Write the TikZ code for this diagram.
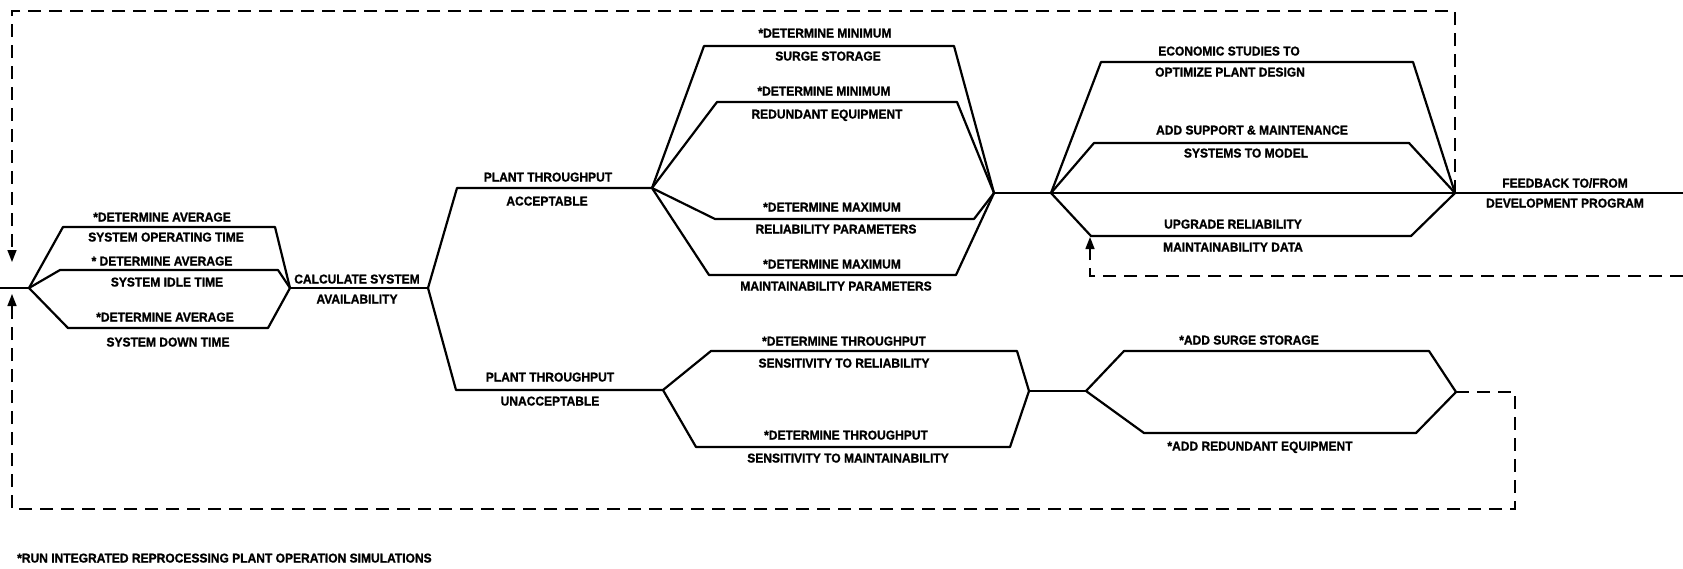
\documentclass[tikz,border=0pt]{standalone}
\usepackage{fontspec}
\setmainfont{Liberation Sans}[FakeStretch=0.94, FakeBold=1.2]
\usetikzlibrary{arrows.meta}
\begin{document}
\begin{tikzpicture}[x=1pt,y=-1pt,
  flow/.style={line width=2.2pt, line join=round, line cap=round},
  loopline/.style={line width=1.5pt, dash pattern=on 13pt off 8pt},
  lbl/.style={inner sep=0pt, text height=9pt, text depth=0pt,
              font=\fontsize{12.8}{15}\selectfont\bfseries},
  tipend/.style={-{Triangle[length=12pt,width=9pt]}}
]
\useasboundingbox (0,0) rectangle (1683,568);

% junction points of the flow network
\coordinate (in0)  at (0,288);
\coordinate (A)    at (29,288);
\coordinate (B)    at (290,288);
\coordinate (C)    at (428,288);
\coordinate (D)    at (652,188);
\coordinate (E)    at (663,390);
\coordinate (F)    at (994,193);
\coordinate (G)    at (1051,193);
\coordinate (J)    at (1455,193);
\coordinate (out0) at (1683,193);
\coordinate (H)    at (1029,391);
\coordinate (I)    at (1086,391);
\coordinate (K)    at (1456,392);

% feedback loop corners and arrow ends
\coordinate (tr)   at (1455,11);
\coordinate (tl)   at (12,11);
\coordinate (downtip) at (12,262);
\coordinate (kr)   at (1515,392);
\coordinate (br)   at (1515,509);
\coordinate (bl)   at (12,509);
\coordinate (uptip) at (12,294);
\coordinate (fbin) at (1683,276);
\coordinate (fbc)  at (1090,276);
\coordinate (fbtip) at (1090,237);

% --- system time branches ---
\draw[flow] (in0) -- (A);
\draw[flow] (A) -- (63,227) -- (275,227) -- (B);
\draw[flow] (A) -- (60,270) -- (278,270) -- (B);
\draw[flow] (A) -- (68,328) -- (268,328) -- (B);
\draw[flow] (B) -- (C);

% --- throughput decision ---
\draw[flow] (C) -- (457,188) -- (D);
\draw[flow] (C) -- (456,390) -- (E);

% --- acceptable throughput studies ---
\draw[flow] (D) -- (704,46)  -- (954,46)  -- (F);
\draw[flow] (D) -- (717,102) -- (957,102) -- (F);
\draw[flow] (D) -- (715,219) -- (974,219) -- (F);
\draw[flow] (D) -- (709,275) -- (956,275) -- (F);
\draw[flow] (F) -- (G);
\draw[flow] (G) -- (1101,62)  -- (1413,62)  -- (J);
\draw[flow] (G) -- (1094,143) -- (1409,143) -- (J);
\draw[flow] (G) -- (J);
\draw[flow] (G) -- (1091,236) -- (1411,236) -- (J);
\draw[flow] (J) -- (out0);

% --- unacceptable throughput studies ---
\draw[flow] (E) -- (711,351) -- (1017,351) -- (H);
\draw[flow] (E) -- (696,447) -- (1010,447) -- (H);
\draw[flow] (H) -- (I);
\draw[flow] (I) -- (1124,351) -- (1429,351) -- (K);
\draw[flow] (I) -- (1144,433) -- (1416,433) -- (K);

% --- dashed feedback loops ---
\draw[loopline, tipend] (J) -- (tr) -- (tl) -- (downtip);
\draw[loopline, tipend] (K) -- (kr) -- (br) -- (bl) -- (uptip);
\draw[loopline, tipend] (fbin) -- (fbc) -- (fbtip);

% --- labels ---
\node[lbl] (l1a) at (162,217) {*DETERMINE AVERAGE};
\node[lbl] (l1b) at (166,237) {SYSTEM OPERATING TIME};
\node[lbl] (l2a) at (162,261) {* DETERMINE AVERAGE};
\node[lbl] (l2b) at (167,282) {SYSTEM IDLE TIME};
\node[lbl] (l3a) at (165,317) {*DETERMINE AVERAGE};
\node[lbl] (l3b) at (168,342) {SYSTEM DOWN TIME};
\node[lbl] (calca) at (357,279) {CALCULATE SYSTEM};
\node[lbl] (calcb) at (357,299) {AVAILABILITY};

\node[lbl] (acca) at (548,177) {PLANT THROUGHPUT};
\node[lbl] (accb) at (547,201) {ACCEPTABLE};
\node[lbl] (unaa) at (550,377) {PLANT THROUGHPUT};
\node[lbl] (unab) at (550,401) {UNACCEPTABLE};

\node[lbl] (s1a) at (825,33)  {*DETERMINE MINIMUM};
\node[lbl] (s1b) at (828,56)  {SURGE STORAGE};
\node[lbl] (s2a) at (824,91)  {*DETERMINE MINIMUM};
\node[lbl] (s2b) at (827,114) {REDUNDANT EQUIPMENT};
\node[lbl] (s3a) at (832,207) {*DETERMINE MAXIMUM};
\node[lbl] (s3b) at (836,229) {RELIABILITY PARAMETERS};
\node[lbl] (s4a) at (832,264) {*DETERMINE MAXIMUM};
\node[lbl] (s4b) at (836,286) {MAINTAINABILITY PARAMETERS};

\node[lbl] (t1a) at (844,341) {*DETERMINE THROUGHPUT};
\node[lbl] (t1b) at (844,363) {SENSITIVITY TO RELIABILITY};
\node[lbl] (t2a) at (846,435) {*DETERMINE THROUGHPUT};
\node[lbl] (t2b) at (848,458) {SENSITIVITY TO MAINTAINABILITY};

\node[lbl] (e1a) at (1229,51)  {ECONOMIC STUDIES TO};
\node[lbl] (e1b) at (1230,72)  {OPTIMIZE PLANT DESIGN};
\node[lbl] (e2a) at (1252,130) {ADD SUPPORT \& MAINTENANCE};
\node[lbl] (e2b) at (1246,153) {SYSTEMS TO MODEL};
\node[lbl] (e3a) at (1233,224) {UPGRADE RELIABILITY};
\node[lbl] (e3b) at (1233,247) {MAINTAINABILITY DATA};
\node[lbl] (fba) at (1565,183) {FEEDBACK TO/FROM};
\node[lbl] (fbb) at (1565,203) {DEVELOPMENT PROGRAM};

\node[lbl] (r1) at (1249,340) {*ADD SURGE STORAGE};
\node[lbl] (r2) at (1260,446) {*ADD REDUNDANT EQUIPMENT};

\node[lbl, anchor=west] (note) at (17,558)
  {*RUN INTEGRATED REPROCESSING PLANT OPERATION SIMULATIONS};
\end{tikzpicture}
\end{document}
